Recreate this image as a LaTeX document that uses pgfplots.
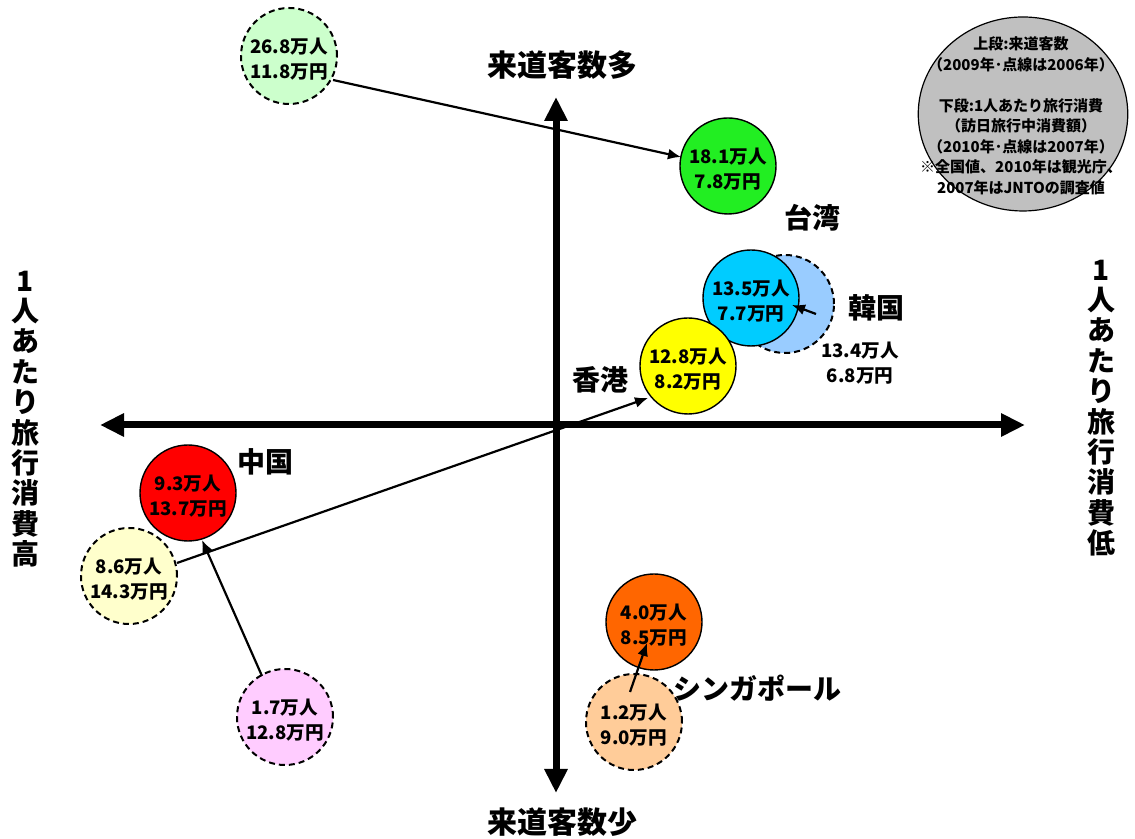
\documentclass[border=0pt]{standalone}
\usepackage{fontspec}
\setmainfont{Noto Sans CJK JP}
\usepackage{pgfplots}
\pgfplotsset{compat=1.18}
\usetikzlibrary{arrows.meta}
\definecolor{cLGreen}{HTML}{CCFFCC}
\definecolor{cGreen}{HTML}{22EE22}
\definecolor{cCyan}{HTML}{00CCFF}
\definecolor{cLBlue}{HTML}{99CCFF}
\definecolor{cYellow}{HTML}{FFFF00}
\definecolor{cRed}{HTML}{FF0000}
\definecolor{cLYellow}{HTML}{FFFFCC}
\definecolor{cPink}{HTML}{FFCCFF}
\definecolor{cOrange}{HTML}{FF6600}
\definecolor{cPeach}{HTML}{FFCC99}
\definecolor{cGrey}{HTML}{C0C0C0}
% 1 px of the reference = 0.5pt
\tikzset{
  lbl/.style={font=\bfseries\fontsize{14}{16}\selectfont, anchor=center, inner sep=0pt},
  ttl/.style={font=\bfseries\fontsize{15}{17}\selectfont, anchor=center, inner sep=0pt},
  vtxt/.style={font=\bfseries\fontsize{14}{15.2}\selectfont, align=center, anchor=center, inner sep=0pt},
}
\pgfplotsset{
  bub/.style 2 args={only marks, mark=*, mark size=24pt,
    mark options={fill=#1, draw=black, line width=0.7pt, solid},
    nodes near coords={#2},
    every node near coord/.append style={anchor=center, align=center, inner sep=0pt,
      font=\bfseries\fontsize{9.3}{12.5}\selectfont, yshift=-1.5pt}},
  bubd/.style 2 args={bub={#1}{#2},
    mark options={fill=#1, draw=black, line width=1pt, dash pattern=on 3pt off 2pt}},
  axarr/.style={line width=3.5pt, black, {Triangle[length=12pt,width=11pt]}-{Triangle[length=12pt,width=11pt]}},
  parr/.style={on layer=axis foreground, line width=1.1pt, black, -{Latex[length=6.5pt,width=5.5pt]}},
}
\begin{document}
\begin{tikzpicture}
\begin{axis}[
  scale only axis, width=567.5pt, height=419.5pt,
  xmin=0, xmax=1135, ymin=0, ymax=839, y dir=reverse,
  hide axis, clip=false, set layers=standard,
]
\coordinate (bl) at (axis cs:0,839);
\coordinate (tr) at (axis cs:1135,0);
% quadrant axes
\addplot[axarr] coordinates {(100,425) (1025,425)};
\addplot[axarr] coordinates {(556,97) (556,793)};
% legend bubble
\addplot[only marks, mark=*, mark size=48.5pt,
  mark options={fill=cGrey, draw=black, line width=0.6pt, xscale=1.08},
  nodes near coords={上段:来道客数\\（2009年･点線は2006年）\\[10.25pt]下段:1人あたり旅行消費\\（訪日旅行中消費額）\\（2010年･点線は2007年）\\※全国値、2010年は観光庁、\\2007年はJNTOの調査値},
  every node near coord/.append style={anchor=center, align=center, inner sep=0pt,
    font=\bfseries\fontsize{7.5}{10.25}\selectfont, xshift=-1pt, yshift=-1pt}]
  coordinates {(1023,114)};
% bubbles: dashed = earlier year, solid = later year
\addplot[bubd={cLGreen}{26.8万人\\11.8万円}] coordinates {(289,56)};
\addplot[bub={cGreen}{18.1万人\\7.8万円}] coordinates {(728,166)};
\addplot[only marks, mark=*, mark size=24.5pt,
  mark options={fill=cLBlue, draw=black, line width=1pt, dash pattern=on 3pt off 2pt}] coordinates {(785,304)};
\addplot[bub={cCyan}{13.5万人\\7.7万円}] coordinates {(751,298)};
\addplot[bub={cYellow}{12.8万人\\8.2万円}] coordinates {(688,366)};
\addplot[bub={cRed}{9.3万人\\13.7万円}] coordinates {(188,493)};
\addplot[bubd={cLYellow}{8.6万人\\14.3万円}] coordinates {(129,576)};
\addplot[bubd={cPink}{1.7万人\\12.8万円}] coordinates {(285,717)};
\addplot[bub={cOrange}{4.0万人\\8.5万円}] coordinates {(654,622)};
\addplot[bubd={cPeach}{1.2万人\\9.0万円}] coordinates {(634,722)};
\node[font=\bfseries\fontsize{9.3}{12.5}\selectfont, align=center, anchor=center, inner sep=0pt]
  at (axis cs:860,363) {13.4万人\\6.8万円};
% change arrows
\addplot[parr] coordinates {(333,80) (681,157)};
\addplot[parr] coordinates {(177,563) (648,398)};
\addplot[parr] coordinates {(262,676) (202,540)};
\addplot[parr] coordinates {(816,314) (792,305)};
\addplot[parr] coordinates {(630,692) (647,643)};
% labels
\node[lbl] at (axis cs:812,218) {台湾};
\node[lbl] at (axis cs:876,308) {韓国};
\node[lbl] at (axis cs:600,380) {香港};
\node[lbl] at (axis cs:265,462) {中国};
\node[lbl] at (axis cs:757,688) {シンガポール};
\node[ttl] at (axis cs:562,65) {来道客数多};
\node[ttl] at (axis cs:562,822) {来道客数少};
\node[vtxt] at (axis cs:25,419) {1\\人\\あ\\た\\り\\旅\\行\\消\\費\\高};
\node[vtxt] at (axis cs:1101,408) {1\\人\\あ\\た\\り\\旅\\行\\消\\費\\低};
\end{axis}
\pgfresetboundingbox
\useasboundingbox (bl) rectangle (tr);
\end{tikzpicture}
\end{document}
